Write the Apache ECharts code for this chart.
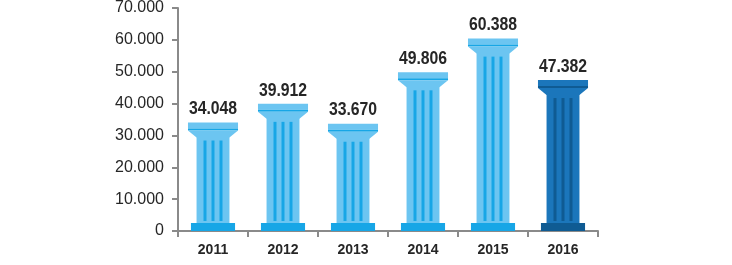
<!DOCTYPE html>
<html><head><meta charset="utf-8">
<script src="https://cdn.jsdelivr.net/npm/echarts@6/dist/echarts.min.js"></script>
<style>html,body{margin:0;padding:0;background:#fff}#c{width:732px;height:265px}</style>
</head><body><div id="c"></div>
<script>
const categories = ['2011','2012','2013','2014','2015','2016'];
const values = [34048, 39912, 33670, 49806, 60388, 47382];
const valueLabels = ['34.048','39.912','33.670','49.806','60.388','47.382'];
const yTicks = [0, 10000, 20000, 30000, 40000, 50000, 60000, 70000];

function fmt(v){ return v === 0 ? '0' : String(v).replace(/\B(?=(\d{3})+(?!\d))/g, '.'); }

const LIGHT = ['#6cc5f1', '#1b76bb'];
const DARK  = ['#17a6e6', '#0f5b93'];

function renderItem(params, api){
  const idx = api.value(0);
  const val = api.value(1);
  const top = api.coord([idx, val]);
  const bot = api.coord([idx, 0]);
  const cx = top[0];
  const yT = top[1];
  const yB = bot[1];
  const bw = api.size([1, 0])[0];
  const capW = bw * 0.715;
  const shaftW = bw * 0.47;
  const baseW = bw * 0.63;
  const last = idx === categories.length - 1 ? 1 : 0;
  const light = LIGHT[last], dark = DARK[last];
  const children = [];
  children.push({type:'rect', shape:{x:cx-baseW/2, y:yB-8, width:baseW, height:8}, style:{fill:dark}});
  children.push({type:'rect', shape:{x:cx-shaftW/2, y:yT+13, width:shaftW, height:(yB-8)-(yT+13)}, style:{fill:light}});
  children.push({type:'rect', shape:{x:cx-capW/2, y:yT, width:capW, height:6}, style:{fill:light}});
  children.push({type:'rect', shape:{x:cx-capW/2, y:yT+6, width:capW, height:2}, style:{fill:dark}});
  children.push({type:'polygon', shape:{points:[[cx-capW/2, yT+8],[cx+capW/2, yT+8],[cx+shaftW/2, yT+15],[cx-shaftW/2, yT+15]]}, style:{fill:light}});
  [-8, 0, 8].forEach(function(d){
    children.push({type:'rect', shape:{x:cx+d-1.5, y:yT+18, width:3, height:(yB-10)-(yT+18)}, style:{fill:dark}});
  });
  children.push({type:'text', x:cx, y:yT-4, scaleX:0.83, style:{text:valueLabels[idx], x:0, y:0, align:'center', verticalAlign:'bottom',
    fill:'#262626', font:'bold 19px "Liberation Sans", Arial, sans-serif'}});
  return {type:'group', children:children};
}

const chart = echarts.init(document.getElementById('c'), null, {renderer:'canvas'});
chart.setOption({
  animation:false,
  grid:{left:178, right:134, top:8, bottom:34, containLabel:false},
  xAxis:{type:'category', data:categories,
    axisLine:{lineStyle:{color:'#8a8a8a', width:2}},
    axisTick:{show:true, length:6, lineStyle:{color:'#8a8a8a', width:2}},
    axisLabel:{color:'#262626', fontSize:14, fontWeight:'bold', fontFamily:'"Liberation Sans", Arial, sans-serif', margin:12}},
  yAxis:{type:'value', min:0, max:70000, interval:10000,
    axisLine:{show:true, lineStyle:{color:'#8a8a8a', width:2}},
    axisTick:{show:true, length:6, lineStyle:{color:'#8a8a8a', width:2}},
    splitLine:{show:false},
    axisLabel:{color:'#262626', fontSize:16, fontFamily:'"Liberation Sans", Arial, sans-serif', margin:14, formatter:fmt}},
  series:[{type:'custom', renderItem:renderItem, clip:false,
    data:values.map(function(v,i){return [i, v];})}]
});
</script></body></html>
